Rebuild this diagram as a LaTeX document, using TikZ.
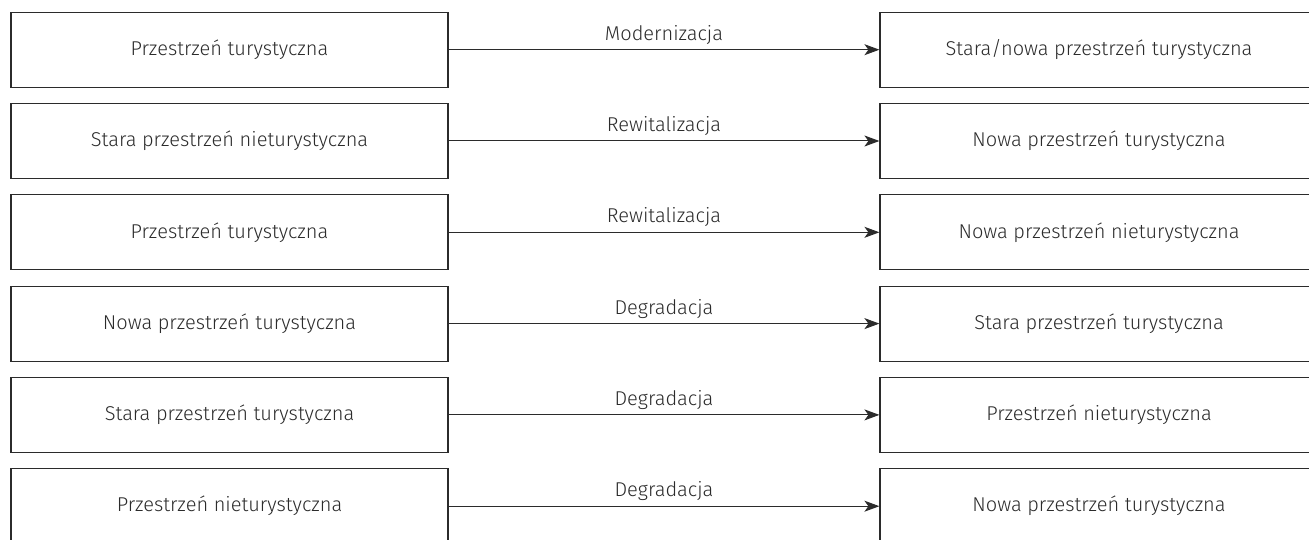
\documentclass[tikz,border=0pt]{standalone}
\usepackage{fontspec}
\setmainfont{Fira Sans Light}
\usetikzlibrary{arrows.meta}
\definecolor{ink}{HTML}{2B2B2B}
\begin{document}
\begin{tikzpicture}[x=1pt,y=-1pt,
  box/.style={draw=ink,line width=1.2pt,minimum width=437pt,minimum height=75pt,inner sep=0pt,text=ink,font=\fontsize{20}{22}\selectfont},
  conn/.style={draw=ink,line width=1pt,-{Stealth[length=15pt,width=11pt,inset=4pt]}},
  lab/.style={above=5pt,text=ink,font=\fontsize{20}{22}\selectfont,inner sep=0pt}]
\useasboundingbox (0,0) rectangle (1309,540);
\foreach \i/\l/\m/\r in {
  1/Przestrzeń turystyczna/Modernizacja/{Stara/nowa przestrzeń turystyczna},
  2/Stara przestrzeń nieturystyczna/Rewitalizacja/Nowa przestrzeń turystyczna,
  3/Przestrzeń turystyczna/Rewitalizacja/Nowa przestrzeń nieturystyczna,
  4/Nowa przestrzeń turystyczna/Degradacja/Stara przestrzeń turystyczna,
  5/Stara przestrzeń turystyczna/Degradacja/Przestrzeń nieturystyczna,
  6/Przestrzeń nieturystyczna/Degradacja/Nowa przestrzeń turystyczna}{
  \pgfmathsetmacro\yy{49.7+(\i-1)*91.3}
  \node[box] (L\i) at (229.5,\yy) {\l};
  \node[box,minimum width=438pt] (R\i) at (1099,\yy) {\r};
  \draw[conn] (L\i.east) -- node[lab] (M\i) {\m} (R\i.west);
}
\end{tikzpicture}
\end{document}
